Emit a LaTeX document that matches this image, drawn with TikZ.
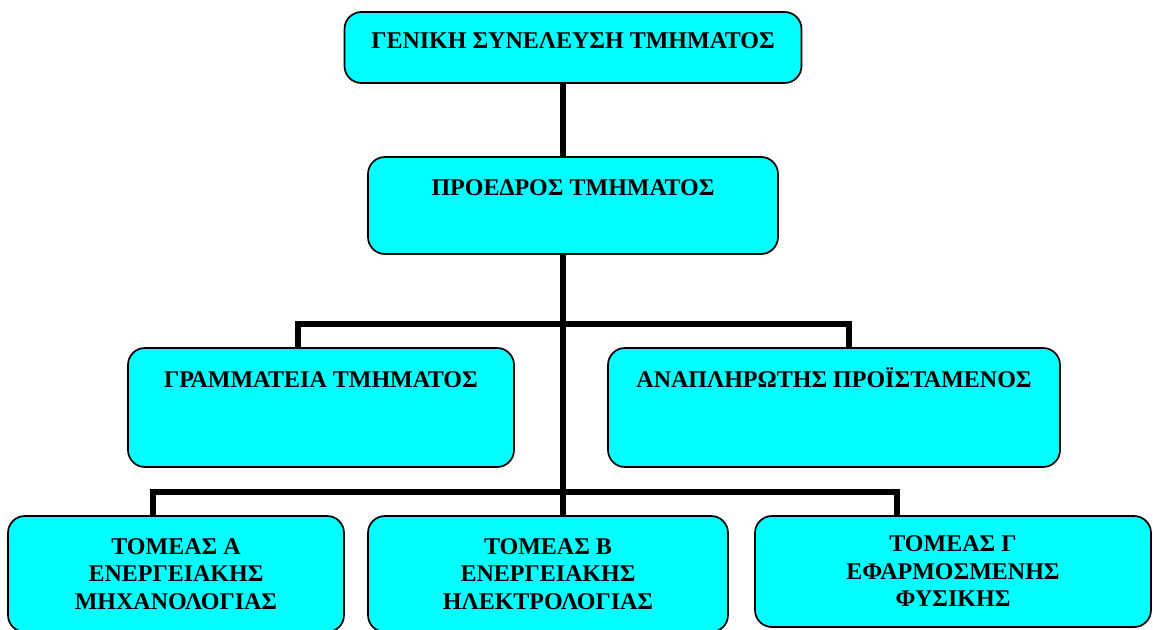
\documentclass[tikz,border=0pt]{standalone}
\usepackage{fontspec}
\setmainfont{Liberation Serif}
\definecolor{boxcyan}{RGB}{0,255,255}
\begin{document}
\begin{tikzpicture}[x=1pt,y=-1pt,
  box/.style={draw=black, line width=1.7pt, fill=boxcyan, rounded corners=17pt,
    inner sep=0pt, font=\bfseries\fontsize{24}{27.5}\selectfont, align=center},
  conn/.style={draw=black, line width=5.5pt, line join=miter}]
\useasboundingbox (0,0) rectangle (1153,629);
\clip (0,0) rectangle (1153,629);
% boxes
\node[box, minimum width=457pt, text height=36pt, text depth=35pt] (gs) at (573,47.5) {ΓΕΝΙΚΗ ΣΥΝΕΛΕΥΣΗ ΤΜΗΜΑΤΟΣ};
\node[box, minimum width=410pt, text height=38pt, text depth=59pt] (pr) at (573,205.5) {ΠΡΟΕΔΡΟΣ ΤΜΗΜΑΤΟΣ};
\node[box, minimum width=386pt, text height=39pt, text depth=80pt] (gr) at (321,407.5) {ΓΡΑΜΜΑΤΕΙΑ ΤΜΗΜΑΤΟΣ};
\node[box, minimum width=452pt, text height=39pt, text depth=80pt] (an) at (834,407.5) {ΑΝΑΠΛΗΡΩΤΗΣ ΠΡΟΪΣΤΑΜΕΝΟΣ};
\node[box, minimum width=336pt, minimum height=116pt] (ta) at (176,574) {ΤΟΜΕΑΣ Α\\ΕΝΕΡΓΕΙΑΚΗΣ\\ΜΗΧΑΝΟΛΟΓΙΑΣ};
\node[box, minimum width=360pt, minimum height=116pt] (tb) at (548,574) {ΤΟΜΕΑΣ Β\\ΕΝΕΡΓΕΙΑΚΗΣ\\ΗΛΕΚΤΡΟΛΟΓΙΑΣ};
\node[box, minimum width=396pt, minimum height=111pt] (tc) at (953,571.5) {ΤΟΜΕΑΣ Γ\\ΕΦΑΡΜΟΣΜΕΝΗΣ\\ΦΥΣΙΚΗΣ};
% junction coordinates
\coordinate (j1) at (563,324);
\coordinate (j2) at (563,492);
% connectors
\draw[conn] ([xshift=-10pt]gs.south) -- ([xshift=-10pt]pr.north);
\draw[conn] ([xshift=-10pt]pr.south) -- ([xshift=15pt]tb.north);
\draw[conn] ([xshift=-23pt]gr.north) |- (j1) -| ([xshift=15pt]an.north);
\draw[conn] ([xshift=-23pt]ta.north) |- (j2) -| ([xshift=-56pt]tc.north);
\end{tikzpicture}
\end{document}
